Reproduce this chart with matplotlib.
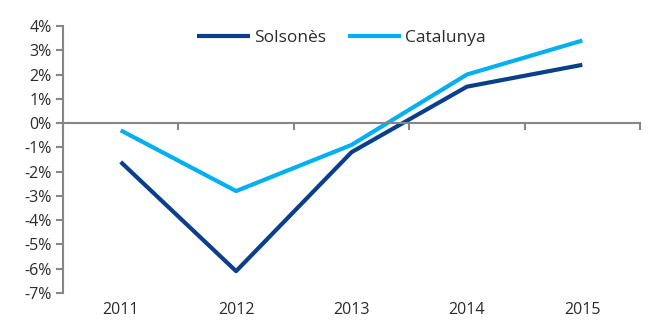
import matplotlib
matplotlib.use('Agg')
import matplotlib.pyplot as plt
import matplotlib.transforms as mtransforms

plt.rcParams['font.family'] = ['Open Sans', 'DejaVu Sans']

YEARS = ['2011', '2012', '2013', '2014', '2015']
SOLSONES = [-1.6, -6.1, -1.2, 1.5, 2.4]
CATALUNYA = [-0.3, -2.8, -0.9, 2.0, 3.4]
Y_TICKS = list(range(-7, 5))

DARK = '#0b3f8c'
LIGHT = '#00b0f0'
AXIS_GREY = '#868686'
TEXT = '#2b2b2b'

fig = plt.figure(figsize=(6.6, 3.23), dpi=100)
ax = fig.add_axes([63 / 660, 1 - 293 / 323, 577 / 660, 267 / 323])

x = [i + 0.5 for i in range(len(YEARS))]
ax.plot(x, SOLSONES, color=DARK, lw=3, label='Solsonès', solid_capstyle='butt')
ax.plot(x, CATALUNYA, color=LIGHT, lw=3, label='Catalunya', solid_capstyle='butt')

ax.set_xlim(0, len(YEARS))
ax.set_ylim(-7, 4)

for side in ['top', 'right']:
    ax.spines[side].set_visible(False)
ax.spines['bottom'].set_position(('data', 0))
for side in ['left', 'bottom']:
    ax.spines[side].set_color(AXIS_GREY)
    ax.spines[side].set_linewidth(1.5)

ax.set_yticks(Y_TICKS)
ax.set_yticklabels([f'{v}%' for v in Y_TICKS], fontsize=11.5, color=TEXT)
ax.tick_params(axis='y', direction='out', length=5, width=1.5, color=AXIS_GREY, pad=3)

ax.set_xticks(range(len(YEARS) + 1))
ax.set_xticklabels([])
ax.tick_params(axis='x', direction='out', length=5, width=1.5, color=AXIS_GREY)

trans = mtransforms.blended_transform_factory(ax.transData, ax.transAxes)
for xi, year in zip(x, YEARS):
    ax.text(xi, -0.035, year, transform=trans, ha='center', va='top',
            fontsize=11.5, color=TEXT)

leg = ax.legend(loc='center left', bbox_to_anchor=(0.232, 0.955), ncol=2, frameon=False,
                fontsize=12.5, handlelength=3.05, handletextpad=0.23, columnspacing=1.26,
                borderpad=0, borderaxespad=0)
for t in leg.get_texts():
    t.set_color(TEXT)

fig.savefig('out.png', dpi=100)
